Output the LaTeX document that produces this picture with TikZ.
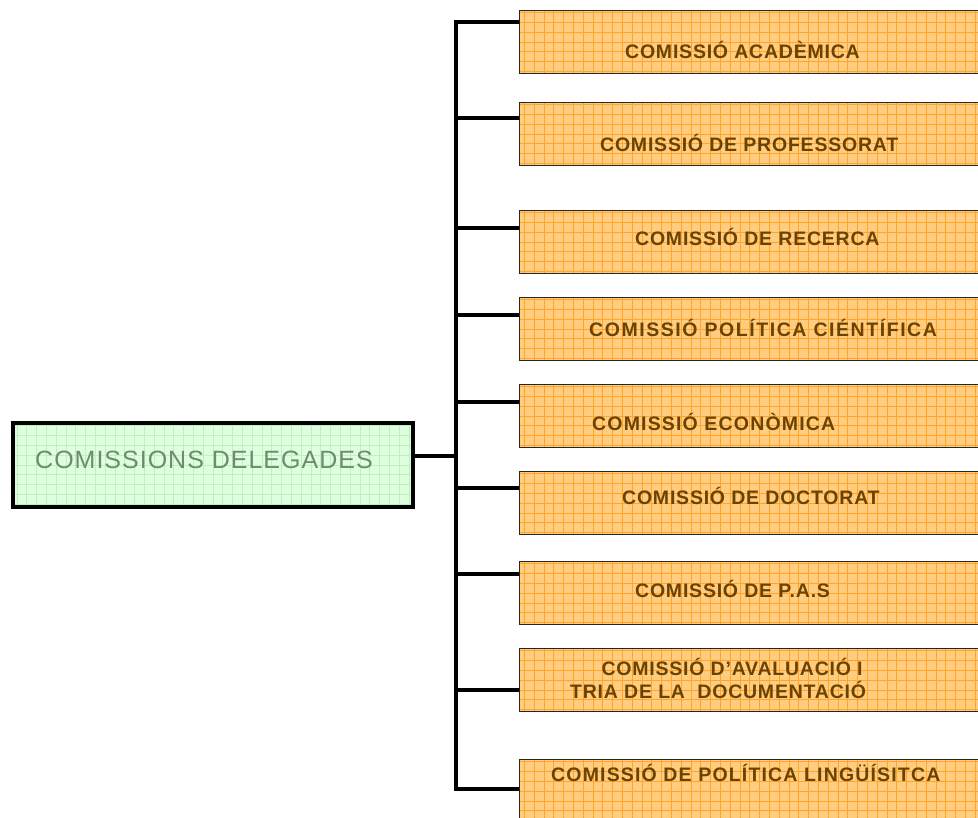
\documentclass[tikz,border=0pt]{standalone}
\usepackage{fontspec}
\setmainfont{Liberation Sans}
\newfontfamily\boxfont[LetterSpace=4]{Liberation Sans}
\newfontfamily\boxfontwide[LetterSpace=8]{Liberation Sans}
\newfontfamily\boxfontmid[LetterSpace=6]{Liberation Sans}
\definecolor{ofill}{HTML}{FFCC80}
\definecolor{ogrid}{HTML}{FFA52A}
\definecolor{gfill}{HTML}{DDFFDD}
\definecolor{ggrid}{HTML}{BFF0BF}
\definecolor{otxt}{HTML}{6B4300}
\definecolor{gtxt}{HTML}{6F8A6F}
\begin{document}
\begin{tikzpicture}[x=1pt,y=-1pt,
  orangebox/.style={draw=black!85, line width=1.4pt, fill=ofill, rectangle, anchor=north west,
    minimum width=480pt, minimum height=63pt, inner sep=0pt,
    path picture={\draw[ogrid, line width=1pt]
      (path picture bounding box.south west) grid[step=9.8pt] (path picture bounding box.north east);}},
  greenbox/.style={draw=black, line width=4pt, fill=gfill, rectangle,
    minimum width=400pt, minimum height=84pt, inner sep=0pt,
    path picture={\draw[ggrid, line width=0.8pt]
      (path picture bounding box.south west) grid[step=9.8pt] (path picture bounding box.north east);}},
  otext/.style={anchor=west, inner sep=0pt, font=\boxfont\fontsize{19.5}{23}\selectfont\bfseries, text=otxt, align=center},
  otextwide/.style={otext, font=\boxfontwide\fontsize{19.5}{23}\selectfont\bfseries},
  otextmid/.style={otext, font=\boxfontmid\fontsize{19.5}{23}\selectfont\bfseries},
  gtext/.style={anchor=west, inner sep=0pt, font=\boxfont\fontsize{25}{28}\selectfont, text=gtxt},
  conn/.style={line width=3.6pt, black}]
\useasboundingbox (0,0) rectangle (978,818);
\clip (0,0) rectangle (978,818);
\fill[white] (0,0) rectangle (978,818);
% main box
\node[greenbox] (main) at (213,465) {};
\node[gtext] (maintext) at (35,460) {COMISSIONS DELEGADES};
% boxes
\node[orangebox] (b1) at (519,10) {};
\node[orangebox] (b2) at (519,102) {};
\node[orangebox] (b3) at (519,210) {};
\node[orangebox] (b4) at (519,297) {};
\node[orangebox] (b5) at (519,384) {};
\node[orangebox] (b6) at (519,471) {};
\node[orangebox] (b7) at (519,561) {};
\node[orangebox] (b8) at (519,648) {};
\node[orangebox] (b9) at (519,759) {};
% texts
\node[otext] (l1) at (625,50) {COMISSIÓ ACADÈMICA};
\node[otext] (l2) at (600,143) {COMISSIÓ DE PROFESSORAT};
\node[otext] (l3) at (635,237) {COMISSIÓ DE RECERCA};
\node[otextwide] (l4) at (589,328) {COMISSIÓ POLÍTICA CIÉNTÍFICA};
\node[otextmid] (l5) at (592,422) {COMISSIÓ ECONÒMICA};
\node[otext] (l6) at (622,496) {COMISSIÓ DE DOCTORAT};
\node[otext] (l7) at (635,589) {COMISSIÓ DE P.A.S};
\node[otext, anchor=north west] (l8) at (570,658) {\hspace*{28pt}COMISSIÓ D’AVALUACIÓ I\\TRIA DE LA\ \ DOCUMENTACIÓ};
\node[otextmid] (l9) at (551,773) {COMISSIÓ DE POLÍTICA LINGÜÍSITCA};
% trunk
\coordinate (t1) at (456,22);
\coordinate (t2) at (456,118);
\coordinate (t3) at (456,228);
\coordinate (t4) at (456,315);
\coordinate (t5) at (456,402);
\coordinate (t6) at (456,488);
\coordinate (t7) at (456,574);
\coordinate (t8) at (456,690);
\coordinate (t9) at (456,789);
\coordinate (j) at (456,456);
\draw[conn, line cap=rect] (t1) -- (t9);
\draw[conn] (main.east |- j) -- (j);
\foreach \i in {1,...,9} {
  \draw[conn] (t\i) -- (t\i -| b\i.west);
}
\end{tikzpicture}
\end{document}
